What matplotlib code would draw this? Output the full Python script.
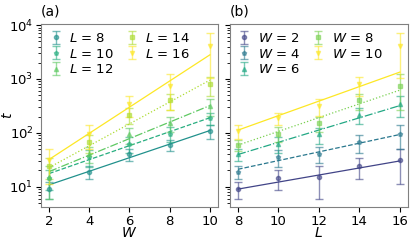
import numpy as np
import matplotlib
matplotlib.use("Agg")
import matplotlib.pyplot as plt

W = [2, 4, 6, 8, 10]
L = [8, 10, 12, 14, 16]

# t_tilde[i][j] -> W[i], L[j]
t_tilde = np.array([
    [9, 14.5, 15, 24, 31],
    [19, 35, 41, 67, 94],
    [40, 62, 93, 215, 340],
    [60, 96, 150, 400, 750],
    [108, 188, 318, 790, 4150],
])
t_err = np.array([
    [3, 6, 9, 10, 20],
    [5, 12, 14, 25, 45],
    [10, 20, 30, 70, 140],
    [14, 30, 45, 130, 490],
    [30, 50, 110, 300, 3100],
])

# fitted lines, value at first and last x
fit_a = [(10.8, 110), (17.5, 190), (19, 320), (22.6, 950), (32, 2800)]   # per L, over W
fit_b = [(9, 30), (21, 93), (39.5, 320), (59, 620), (112, 1340)]          # per W, over L

markers = ['o', 'p', '^', 's', 'v']
styles = ['-', '--', '-.', ':', '-']
cmap = plt.get_cmap('viridis')

fig = plt.figure(figsize=(4.15, 2.42), dpi=100)
ax1 = fig.add_axes([0.099, 0.145, 0.426, 0.756])
ax2 = fig.add_axes([0.554, 0.145, 0.429, 0.756], sharey=ax1)

for j, l in enumerate(L):
    c = cmap(l / 16)
    ax1.errorbar(W, t_tilde[:, j], yerr=t_err[:, j], fmt=markers[j], color=c,
                 ms=3, capsize=3, elinewidth=1, alpha=0.6, label=f'$L$ = {l}')
    ax1.plot([W[0], W[-1]], fit_a[j], styles[j], color=c, lw=0.9)

for i, w in enumerate(W):
    c = cmap(w / 10)
    ax2.errorbar(L, t_tilde[i], yerr=t_err[i], fmt=markers[i], color=c,
                 ms=3, capsize=3, elinewidth=1, alpha=0.6, label=f'$W$ = {w}')
    ax2.plot([L[0], L[-1]], fit_b[i], styles[i], color=c, lw=0.9)

ax1.set_yscale('log')
ax1.set_ylim(4.2, 1.05e4)
ax1.set_xticks(W)
ax2.set_xticks(L)
ax1.set_xlabel('$W$', labelpad=-1)
ax2.set_xlabel('$L$', labelpad=-1)
ax1.set_ylabel(r'$\tilde{t}$')
ax1.yaxis.set_label_coords(-0.14, 0.5)
plt.setp(ax2.get_yticklabels(), visible=False)

for ax, tag in [(ax1, '(a)'), (ax2, '(b)')]:
    ax.tick_params(labelsize=9.5, pad=2)
    for s in ax.spines.values():
        s.set_edgecolor('0.5')
    ax.text(0.0, 1.03, tag, transform=ax.transAxes, fontsize=10, va='bottom')
    ax.legend(ncol=2, loc='upper left', frameon=False, fontsize=9.5,
              handlelength=1, handletextpad=0.5, columnspacing=0.9,
              labelspacing=0.2, borderaxespad=0.2)

fig.savefig('out.png', dpi=100)
